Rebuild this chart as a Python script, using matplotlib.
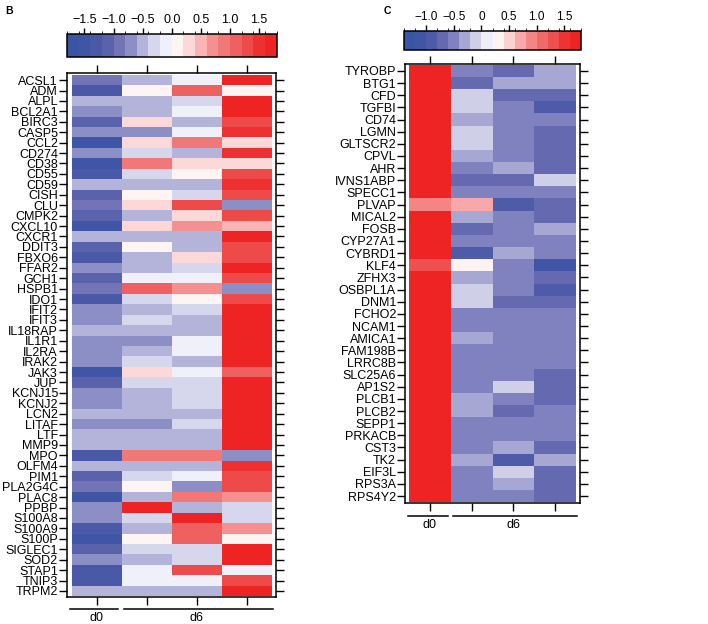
import numpy as np
import matplotlib.pyplot as plt
from matplotlib.colors import LinearSegmentedColormap, BoundaryNorm
from matplotlib.cm import ScalarMappable
from matplotlib.transforms import blended_transform_factory

plt.rcParams['font.family'] = ['Liberation Sans', 'DejaVu Sans']

# columns: d0, d6, d6, d6
genes_b = ['ACSL1', 'ADM', 'ALPL', 'BCL2A1', 'BIRC3', 'CASP5', 'CCL2', 'CD274', 'CD38', 'CD55',
           'CD59', 'CISH', 'CLU', 'CMPK2', 'CXCL10', 'CXCR1', 'DDIT3', 'FBXO6', 'FFAR2', 'GCH1',
           'HSPB1', 'IDO1', 'IFIT2', 'IFIT3', 'IL18RAP', 'IL1R1', 'IL2RA', 'IRAK2', 'JAK3', 'JUP',
           'KCNJ15', 'KCNJ2', 'LCN2', 'LITAF', 'LTF', 'MMP9', 'MPO', 'OLFM4', 'PIM1', 'PLA2G4C',
           'PLAC8', 'PPBP', 'S100A8', 'S100A9', 'S100P', 'SIGLEC1', 'SOD2', 'STAP1', 'TNIP3', 'TRPM2']
values_b = [
    [-0.9, -0.5, -0.1, 1.7], [-1.3, 0.1, 1.1, 0.1], [-0.5, -0.5, -0.3, 1.7], [-0.7, -0.5, -0.1, 1.7],
    [-1.1, 0.3, -0.5, 1.3], [-0.7, -0.7, -0.1, 1.5], [-1.5, 0.3, 0.9, 0.3], [-0.7, -0.3, -0.5, 1.5],
    [-1.5, 0.9, 0.3, 0.3], [-1.3, -0.3, 0.1, 1.3], [-0.5, -0.5, -0.5, 1.5], [-1.1, 0.1, -0.3, 1.3],
    [-0.9, 0.3, 1.3, -0.7], [-1.1, -0.5, 0.3, 1.3], [-1.5, 0.3, 0.7, 0.5], [-0.5, -0.5, -0.5, 1.7],
    [-1.1, 0.1, -0.5, 1.3], [-1.3, -0.5, 0.3, 1.3], [-0.7, -0.5, -0.3, 1.7], [-1.1, -0.1, -0.1, 1.3],
    [-0.9, 1.1, 0.7, -0.7], [-1.3, -0.3, 0.1, 1.3], [-0.7, -0.5, -0.3, 1.7], [-0.7, -0.3, -0.5, 1.7],
    [-0.5, -0.5, -0.5, 1.7], [-0.7, -0.7, -0.1, 1.7], [-0.7, -0.5, -0.1, 1.7], [-0.7, -0.3, -0.5, 1.7],
    [-1.5, 0.3, -0.1, 1.1], [-1.1, -0.3, -0.3, 1.7], [-0.7, -0.5, -0.3, 1.7], [-0.7, -0.5, -0.3, 1.7],
    [-0.5, -0.5, -0.5, 1.7], [-0.7, -0.7, -0.3, 1.7], [-0.5, -0.5, -0.5, 1.7], [-0.5, -0.5, -0.5, 1.7],
    [-1.3, 0.9, 0.9, -0.7], [-0.5, -0.5, -0.5, 1.5], [-1.1, -0.3, -0.1, 1.3], [-0.9, 0.1, -0.7, 1.3],
    [-1.5, -0.5, 0.9, 0.7], [-0.7, 1.7, -0.5, -0.3], [-0.7, -0.3, 1.7, -0.3], [-1.3, -0.5, 1.1, 0.7],
    [-1.5, 0.1, 1.1, 0.1], [-1.1, -0.3, -0.3, 1.7], [-0.7, -0.5, -0.3, 1.7], [-1.3, -0.1, 1.3, -0.1],
    [-1.3, -0.1, -0.1, 1.3], [-0.5, -0.5, -0.5, 1.7],
]

genes_c = ['TYROBP', 'BTG1', 'CFD', 'TGFBI', 'CD74', 'LGMN', 'GLTSCR2', 'CPVL', 'AHR', 'IVNS1ABP',
           'SPECC1', 'PLVAP', 'MICAL2', 'FOSB', 'CYP27A1', 'CYBRD1', 'KLF4', 'ZFHX3', 'OSBPL1A', 'DNM1',
           'FCHO2', 'NCAM1', 'AMICA1', 'FAM198B', 'LRRC8B', 'SLC25A6', 'AP1S2', 'PLCB1', 'PLCB2', 'SEPP1',
           'PRKACB', 'CST3', 'TK2', 'EIF3L', 'RPS3A', 'RPS4Y2']
values_c = [
    [1.7, -0.5, -0.7, -0.3], [1.7, -0.7, -0.3, -0.3], [1.7, -0.1, -0.7, -0.7], [1.7, -0.1, -0.5, -0.9],
    [1.7, -0.3, -0.5, -0.5], [1.7, -0.1, -0.5, -0.7], [1.7, -0.1, -0.5, -0.7], [1.7, -0.3, -0.5, -0.7],
    [1.7, -0.5, -0.3, -0.7], [1.7, -0.7, -0.7, -0.1], [1.7, -0.5, -0.5, -0.5], [0.9, 0.7, -0.9, -0.7],
    [1.7, -0.3, -0.5, -0.7], [1.7, -0.7, -0.5, -0.3], [1.7, -0.5, -0.5, -0.5], [1.7, -0.9, -0.3, -0.5],
    [1.3, 0.3, -0.5, -1.1], [1.7, -0.3, -0.5, -0.7], [1.7, -0.1, -0.5, -0.9], [1.7, -0.1, -0.7, -0.7],
    [1.7, -0.5, -0.5, -0.5], [1.7, -0.5, -0.5, -0.5], [1.7, -0.3, -0.5, -0.5], [1.7, -0.5, -0.5, -0.5],
    [1.7, -0.5, -0.5, -0.5], [1.7, -0.5, -0.5, -0.7], [1.7, -0.5, -0.1, -0.7], [1.7, -0.3, -0.5, -0.7],
    [1.7, -0.3, -0.7, -0.5], [1.7, -0.5, -0.5, -0.5], [1.7, -0.5, -0.5, -0.5], [1.7, -0.5, -0.3, -0.7],
    [1.7, -0.3, -0.9, -0.3], [1.7, -0.5, -0.1, -0.7], [1.7, -0.5, -0.3, -0.7], [1.7, -0.5, -0.5, -0.7],
]

groups = [('d0', 0, 1), ('d6', 1, 4)]

range_b = (-1.8, 1.8)
range_c = (-1.4, 1.8)
cbar_ticks_b = [-1.5, -1.0, -0.5, 0.0, 0.5, 1.0, 1.5]
cbar_labels_b = ['\u22121.5', '\u22121.0', '\u22120.5', '0.0', '0.5', '1.0', '1.5']
cbar_ticks_c = [-1.0, -0.5, 0.0, 0.5, 1.0, 1.5]
cbar_labels_c = ['\u22121.0', '\u22120.5', '0', '0.5', '1.0', '1.5']

# blue - white - red ramp, sampled into 0.2-wide bins per panel
ramp = ['#3b55a5', '#3f55a5', '#4a58a8', '#5a62ac', '#7274b6', '#8c8ec6', '#b4b4da', '#d6d6ec', '#f0f0fa',
        '#fff4f4', '#fdd8d8', '#fab4b4', '#f49090', '#f27878', '#ef6060', '#ee4a4a', '#ee3030', '#ee2424']
base = LinearSegmentedColormap.from_list('ref_bwr', ramp)

W, H = 708, 624
fig = plt.figure(figsize=(W / 100, H / 100), dpi=100)


def px_rect(x0, y0, x1, y1):
    return [x0 / W, 1 - y1 / H, (x1 - x0) / W, (y1 - y0) / H]


def panel(ax_px, cax_px, genes, values, vrange, ticks, ticklabels, fs_gene, fs_cbar, pad_x, pad_top, pad_bot,
          line_px, text_px):
    data = np.array(values)
    n, ncol = data.shape
    vmin, vmax = vrange
    nbin = int(round((vmax - vmin) / 0.2))
    cmap = base.resampled(nbin)
    norm = BoundaryNorm(np.linspace(vmin, vmax, nbin + 1), nbin)

    ax = fig.add_axes(px_rect(*ax_px))
    ax.pcolormesh(np.arange(ncol + 1), np.arange(n + 1), data, cmap=cmap, norm=norm)
    ax.set_xlim(-pad_x, ncol + pad_x)
    ax.set_ylim(n + pad_bot, -pad_top)
    ax.set_yticks(np.arange(n) + 0.5, labels=genes)
    ax.set_xticks(np.arange(ncol) + 0.5, labels=[])
    ax.tick_params(axis='both', direction='out', length=5.5, width=1, pad=1,
                   top=True, right=True, labelsize=fs_gene)
    for s in ax.spines.values():
        s.set_linewidth(1.1)

    # group brackets under the columns
    ax_h = ax_px[3] - ax_px[1]
    tr = blended_transform_factory(ax.transData, ax.transAxes)
    for name, a, b in groups:
        x0 = a + (0.05 if a > 0 else -0.03)
        x1 = b - (0.07 if b < ncol else -0.03)
        ax.plot([x0, x1], [-line_px / ax_h] * 2, color='black', lw=1.1, transform=tr, clip_on=False)
        ax.text((a + b) / 2, -text_px / ax_h, name, transform=tr, ha='center', va='center', fontsize=9)

    cax = fig.add_axes(px_rect(*cax_px))
    cb = fig.colorbar(ScalarMappable(norm=norm, cmap=cmap), cax=cax, orientation='horizontal',
                      ticklocation='top')
    cb.set_ticks(ticks, labels=ticklabels)
    cb.outline.set_linewidth(1.1)
    cax.tick_params(length=4, width=1, pad=2, labelsize=fs_cbar)
    return ax


panel((67, 73.3, 276, 596.7), (67, 34, 276.5, 57.3), genes_b, values_b, range_b,
      cbar_ticks_b, cbar_labels_b, 9, 9, 0.09, 0.15, 0.05, 12.3, 21)
panel((405, 64, 580, 503), (404, 31, 581, 50), genes_c, values_c, range_c,
      cbar_ticks_c, cbar_labels_c, 9, 8.5, 0.096, 0.07, 0.07, 13, 21.5)

fig.text(5 / W, 1 - 10.5 / H, 'B', fontweight='bold', fontsize=7.5, ha='left', va='center')
fig.text(384 / W, 1 - 10.5 / H, 'C', fontweight='bold', fontsize=7.5, ha='left', va='center')

fig.savefig('out.png', dpi=100)
